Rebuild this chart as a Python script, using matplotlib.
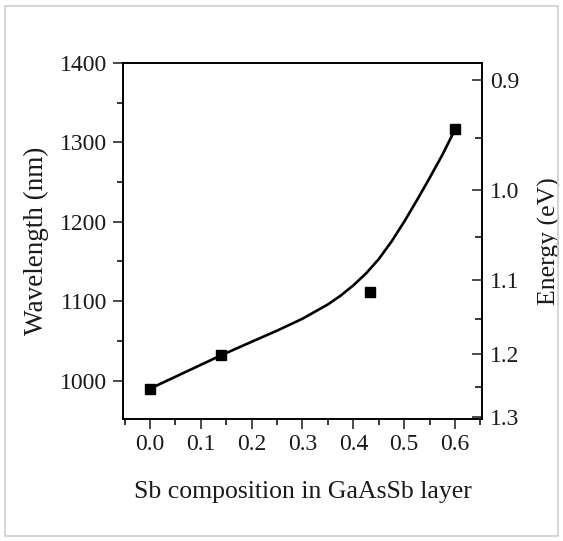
import matplotlib
matplotlib.use("Agg")
import matplotlib.pyplot as plt
from matplotlib.ticker import FormatStrFormatter, MultipleLocator, FixedLocator
from matplotlib.patches import Rectangle
import numpy as np

# Measured data points
sb_comp = [0.0, 0.14, 0.433, 0.60]
wavelength = [990, 1032, 1111, 1317]

# Fitted curve
curve_x = [0.0, 0.05, 0.10, 0.14, 0.20, 0.25, 0.30, 0.35, 0.375, 0.40, 0.425,
           0.45, 0.475, 0.50, 0.525, 0.55, 0.575, 0.60]
curve_y = [990, 1005, 1020, 1032, 1049, 1063, 1078, 1096, 1107, 1120, 1135,
           1153, 1175, 1200, 1227, 1255, 1284, 1316]

x_ticks = [0.0, 0.1, 0.2, 0.3, 0.4, 0.5, 0.6]
y_ticks = [1000, 1100, 1200, 1300, 1400]
e_ticks = [0.9, 1.0, 1.1, 1.2, 1.3]
e_minor = [0.95, 1.05, 1.15, 1.25]

plt.rcParams['font.family'] = ['Liberation Serif', 'DejaVu Serif']

TXT = '#1a1a1a'
fig = plt.figure(figsize=(5.63, 5.41), dpi=100)
fig.patch.set_facecolor('white')
fig.patches.append(Rectangle((5/563, 5/541), 553/563, 530/541, transform=fig.transFigure,
                             fill=False, edgecolor='#cfcfcf', linewidth=1.2))

ax = fig.add_axes([0.219, 0.225, 0.6366, 0.659])
ax.plot(curve_x, curve_y, color='black', linewidth=1.9, zorder=2,
        solid_joinstyle='round')
ax.plot(sb_comp, wavelength, linestyle='none', marker='s', markersize=6.5,
        color='black', zorder=3)

ax.set_xlim(-0.0525, 0.6525)
ax.set_ylim(951.5, 1400)
ax.set_xticks(x_ticks)
ax.xaxis.set_minor_locator(MultipleLocator(0.05))
ax.set_yticks(y_ticks)
ax.yaxis.set_minor_locator(MultipleLocator(50))
ax.xaxis.set_major_formatter(FormatStrFormatter('%.1f'))

ax.tick_params(axis='both', which='major', direction='out', length=7.5, width=1.1,
               labelsize=17, colors=TXT, right=False, top=False)
ax.tick_params(axis='both', which='minor', direction='out', length=4, width=1.1,
               right=False, top=False)
ax.tick_params(axis='x', which='major', pad=3)
ax.tick_params(axis='y', which='major', pad=4)
for s in ['left', 'bottom', 'top']:
    ax.spines[s].set_linewidth(1.4)
ax.spines['right'].set_visible(False)

ax.set_xlabel('Sb composition in GaAsSb layer', fontsize=18.5, color=TXT, labelpad=19)
ax.set_ylabel('Wavelength (nm)', fontsize=19.5, color=TXT, labelpad=8)


def to_e(lam):
    lam = np.asarray(lam, dtype=float)
    with np.errstate(divide='ignore'):
        return 1240.0 / lam


def to_lam(e):
    e = np.asarray(e, dtype=float)
    with np.errstate(divide='ignore'):
        return 1240.0 / e


sec = ax.secondary_yaxis('right', functions=(to_e, to_lam))
sec.yaxis.set_major_locator(FixedLocator(e_ticks))
sec.yaxis.set_minor_locator(FixedLocator(e_minor))
sec.yaxis.set_major_formatter(FormatStrFormatter('%.1f'))
sec.tick_params(axis='y', which='major', direction='in', length=7.5, width=1.1,
                labelsize=17, colors=TXT, pad=6)
sec.tick_params(axis='y', which='minor', direction='in', length=5, width=1.1)
sec.spines['right'].set_linewidth(1.4)
sec.set_ylabel('Energy (eV)', fontsize=18.5, color=TXT, labelpad=13)

fig.savefig('out.png', dpi=100)
